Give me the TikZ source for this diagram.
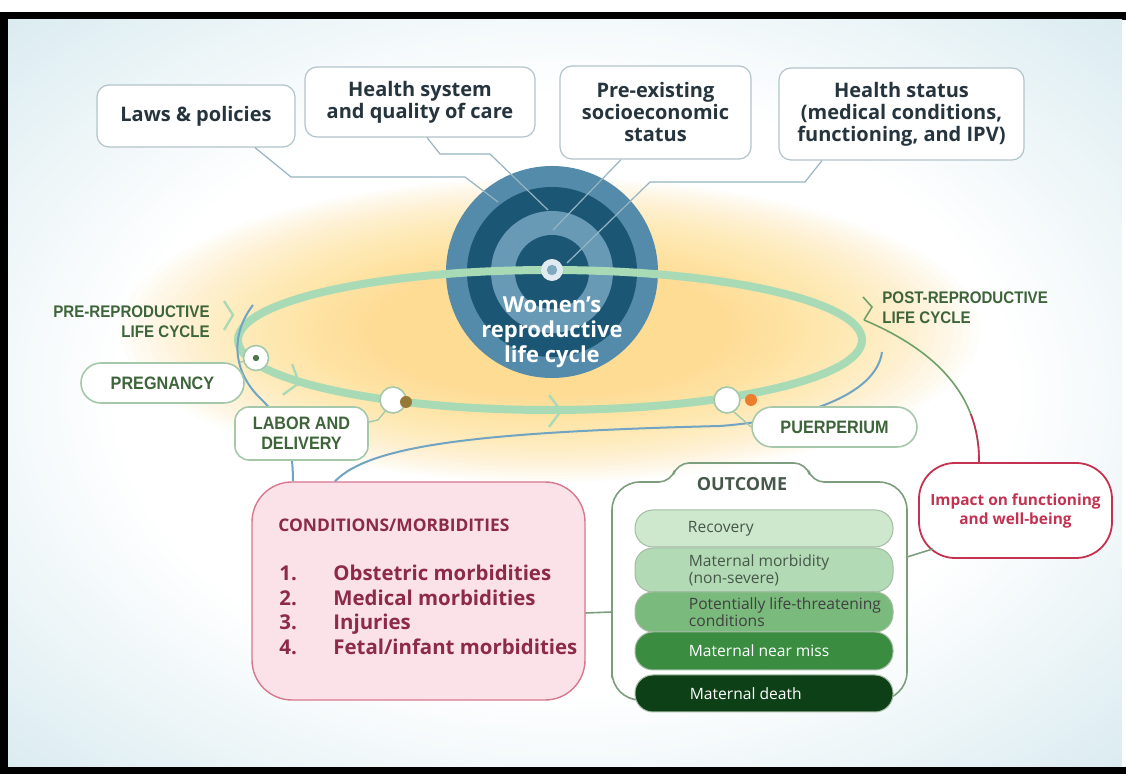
\documentclass[tikz,border=0pt]{standalone}
\usepackage{fontspec}
\setmainfont{Open Sans}
\newfontfamily\capfont{Liberation Sans}[FakeStretch=0.9]
\usetikzlibrary{arrows.meta,positioning,calc}
\definecolor{bgblue}{RGB}{160,204,218}
\definecolor{glowyellow}{RGB}{254,220,120}
\definecolor{ringlight}{RGB}{84,139,170}
\definecolor{ringmid}{RGB}{104,154,182}
\definecolor{ringdark}{RGB}{27,86,116}
\definecolor{loopgreen}{RGB}{168,218,182}
\definecolor{stagegray}{RGB}{165,200,170}
\definecolor{labelgreen}{RGB}{62,100,58}
\definecolor{topline}{RGB}{150,180,194}
\definecolor{topborder}{RGB}{178,196,202}
\definecolor{topink}{RGB}{38,52,62}
\definecolor{bluearc}{RGB}{112,164,194}
\definecolor{condfill}{RGB}{250,226,232}
\definecolor{conddraw}{RGB}{214,120,142}
\definecolor{condink}{RGB}{140,42,72}
\definecolor{impactred}{RGB}{196,50,82}
\definecolor{postgreen}{RGB}{110,160,105}
\definecolor{outline}{RGB}{125,158,125}
\definecolor{outink}{RGB}{70,88,74}
\definecolor{pillA}{RGB}{205,232,205}
\definecolor{pillB}{RGB}{178,218,180}
\definecolor{pillC}{RGB}{122,186,124}
\definecolor{pillD}{RGB}{58,140,64}
\definecolor{pillE}{RGB}{14,64,24}
\definecolor{browndot}{RGB}{150,120,55}
\definecolor{orangedot}{RGB}{236,125,45}
\pgfdeclareradialshading{bgshade}{\pgfpointorigin}{color(0bp)=(white); color(20bp)=(white); color(36bp)=(bgblue!40!white); color(47bp)=(bgblue); color(72bp)=(bgblue!92!black)}

\begin{document}
\begin{tikzpicture}[x=0.5pt,y=-0.5pt,
    topbox/.style={draw=topborder,fill=white,line width=0.6pt,rounded corners=6pt,inner sep=0pt,align=center,text=topink,font=\bfseries\fontsize{10}{11}\selectfont},
    stagebox/.style={draw=stagegray,fill=white,line width=0.8pt,rounded corners=10pt,inner sep=0pt,align=center,text=labelgreen,font=\capfont\bfseries\fontsize{9}{10}\selectfont},
    cyclelabel/.style={inner sep=0pt,text=labelgreen,font=\capfont\bfseries\fontsize{8.4}{10}\selectfont},
    stagedot/.style={circle,draw=stagegray,fill=white,line width=0.8pt,minimum size=12.5pt,inner sep=0pt},
    tline/.style={topline,line width=0.6pt},
    sline/.style={stagegray,line width=0.7pt},
    bline/.style={bluearc,line width=1pt},
    chev/.style={loopgreen,line width=1.2pt},
    pill/.style={draw=outline!70,line width=0.5pt,rounded corners=9pt,minimum width=129pt,inner sep=0pt},
    pilltext/.style={anchor=west,inner sep=0pt,align=left,font=\fontsize{7.8}{8.5}\selectfont},
    oline/.style={outline,line width=0.8pt}
]
\useasboundingbox (0,0) rectangle (1126,774);
% frame and background
\fill[white] (0,0) rectangle (1126,774);
\fill[black] (0,12) rectangle (1126,774);
\shade[shading=bgshade] (8,20) rectangle (1122,767);
\fill[white] (1122,20) rectangle (1126,767);
% soft glow behind the loop
\foreach \k in {0,...,29}
  \fill[glowyellow,opacity=0.045] (550,330) ellipse [x radius={215pt-4.4pt*\k},y radius={76pt-1.5pt*\k}];

% target
\node[circle,fill=ringlight,minimum size=106pt,inner sep=0pt] (target) at (552,272) {};
\fill[ringdark] (target.center) circle (42.5pt);
\fill[ringmid] (target.center) circle (30.5pt);
\fill[ringdark] (target.center) circle (18.5pt);

% influences
\node[topbox,minimum width=99pt,minimum height=31pt] (laws) at (196,116) {Laws \& policies};
\node[topbox,minimum width=115pt,minimum height=35pt] (hsys) at (420,102) {Health system\\and quality of care};
\node[topbox,minimum width=95.5pt,minimum height=46.5pt] (preex) at (655.5,112.5) {Pre-existing\\socioeconomic\\status};
\node[topbox,minimum width=122.5pt,minimum height=46pt] (hstat) at (901.5,114) {Health status\\(medical conditions,\\functioning, and IPV)};

\coordinate (r1) at (498,202);
\coordinate (r2) at (548,210);
\coordinate (r3) at (553,230);
\coordinate (r4) at (567,263);
\draw[tline] ([xshift=29.5pt]laws.south) -- (291,177) -- (465,177) -- (r1);
\draw[tline] ([xshift=3.5pt]hsys.south) -- (440,154) -- (490,154) -- (r2);
\draw[tline] ([xshift=-17.25pt]preex.south) -- (r3);
\draw[tline] ([xshift=-39.75pt]hstat.south) -- (805,182) -- (650,182) -- (r4);

% life cycle loop
\draw[loopgreen,line width=4pt] (550,340) ellipse [x radius=156pt,y radius=35pt];
\foreach \cx/\cy/\r in {299/383/-17, 561/411/0}
  \draw[chev,rotate around={\r:(\cx,\cy)}] (\cx-12,\cy-16) -- (\cx,\cy) -- (\cx-12,\cy+16);
\draw[chev] (224,301) -- (233,315) -- (224,330);
\draw[postgreen,line width=0.8pt] (863,297) -- (872,307) -- (864,320);
\node[circle,minimum size=11pt,inner sep=0pt,fill=white!82!ringlight] (hub) at (552,270) {};
\fill[ringmid!85!white] (hub.center) circle (2.6pt);
\node[align=center,text=white,inner sep=0pt,font=\bfseries\fontsize{11}{12.5}\selectfont] (wrlc) at (552,332) {Women's\\reproductive\\life cycle};

% conditions, outcome, impact
\node[draw=conddraw,fill=condfill,line width=0.7pt,rounded corners=20pt,minimum width=166.5pt,minimum height=109pt] (cond) at (418.5,591) {};
\node[anchor=west,inner sep=0pt,text=condink,font=\bfseries\fontsize{8.7}{10}\selectfont] (condtitle) at (278,525) {CONDITIONS/MORBIDITIES};
\node[anchor=west,inner sep=0pt,align=left,text=condink,font=\bfseries\fontsize{10.2}{12.25}\selectfont] (condlist) at (279,610)
  {\makebox[27pt][l]{1.}Obstetric morbidities\\\makebox[27pt][l]{2.}Medical morbidities\\\makebox[27pt][l]{3.}Injuries\\\makebox[27pt][l]{4.}Fetal/infant morbidities};

\draw[oline,fill=white,fill opacity=0.4,rounded corners=14pt] (612,650) -- (612,482) [rounded corners=6pt] -- (671,482) -- (677,463) -- (806,463) -- (812,482) [rounded corners=14pt] -- (907,482) -- (907,700) -- (612,700) -- cycle;
\coordinate (outleft) at (612,612);
\coordinate (outright) at (907,557);
\node[inner sep=0pt,text=outink,font=\bfseries\fontsize{9}{10}\selectfont] (outtitle) at (742,484) {OUTCOME};
\node[pill,fill=pillA,minimum height=18.5pt] (rec) at (764,528.5) {};
\node[pill,fill=pillB,minimum height=22pt] (mmorb) at (764,570) {};
\node[pill,fill=pillC,minimum height=20pt] (plt) at (764,612) {};
\node[pill,fill=pillD,minimum height=19pt] (nmiss) at (764,651) {};
\node[pill,fill=pillE,minimum height=18.5pt] (death) at (764,693.5) {};
\node[pilltext,text=outink] (rectext) at ([xshift=26.5pt]rec.west) {Recovery};
\node[pilltext,text=outink] (mmorbtext) at ([xshift=27pt]mmorb.west) {Maternal morbidity\\(non-severe)};
\node[pilltext,text=black!75] (plttext) at ([xshift=27pt]plt.west) {Potentially life-threatening\\conditions};
\node[pilltext,text=white] (nmisstext) at ([xshift=27pt]nmiss.west) {Maternal near miss};
\node[pilltext,text=white] (deathtext) at ([xshift=27.5pt]death.west) {Maternal death};

\node[draw=impactred,fill=white,line width=0.9pt,rounded corners=18pt,minimum width=96.5pt,minimum height=47.5pt,align=center,text=impactred,font=\bfseries\fontsize{7.7}{9.5}\selectfont] (impact) at (1015.5,510.5) {Impact on functioning\\and well-being};

\draw[oline] ([yshift=-11pt]cond.east) -- (outleft);
\draw[oline] (outright) -- ([xshift=7.5pt,yshift=5pt]impact.south west);

% blue arcs
\coordinate (bluetop) at (253,305);
\coordinate (blueend) at (882,352);
\draw[bline] (bluetop) .. controls (230,335) and (232,372) .. (262,400) .. controls (282,420) and (293,440) .. ([xshift=-62.75pt]cond.north);
\draw[bline] ([xshift=-41.75pt]cond.north) .. controls (370,445) and (480,432) .. (720,426) .. controls (800,420) and (876,396) .. (blueend);

% post-reproductive line
\coordinate (poststart) at (864,320);
\draw[postgreen,line width=0.8pt] (poststart) .. controls (935,350) and (980,395) .. ([xshift=-18.25pt]impact.north);
\begin{scope}
\clip (930,415) rectangle (1010,470);
\draw[impactred,line width=0.8pt] (poststart) .. controls (935,350) and (980,395) .. ([xshift=-18.25pt]impact.north);
\end{scope}

% stages
\node[stagebox,minimum width=81.5pt,minimum height=20pt] (preg) at (162.5,383) {PREGNANCY};
\node[stagebox,rounded corners=7pt,minimum width=66.5pt,minimum height=26.5pt] (labor) at (301.5,433.5) {LABOR AND\\DELIVERY};
\node[stagebox,minimum width=82.5pt,minimum height=20pt] (puer) at (834.5,427) {PUERPERIUM};
\node[stagedot] (pregc) at (256,358) {};
\node[stagedot,minimum size=13pt] (laborc) at (393,400) {};
\node[stagedot,minimum size=13pt] (puerc) at (727,400) {};
\fill[black!60!green!40!gray] (pregc.center) circle (1.6pt);
\fill[browndot] (406,402) circle (3pt);
\fill[orangedot] (751,400) circle (3pt);
\draw[sline] (pregc) -- (preg);
\draw[sline] (laborc.235) -- (378,420) -- ([yshift=5.75pt]labor.east);
\draw[sline] (puerc.300) -- (puer.west);

\node[cyclelabel,anchor=east,align=right] (prelabel) at (210,322) {PRE-REPRODUCTIVE\\LIFE CYCLE};
\node[cyclelabel,anchor=west,align=left] (postlabel) at (882,308) {POST-REPRODUCTIVE\\LIFE CYCLE};
\end{tikzpicture}
\end{document}
